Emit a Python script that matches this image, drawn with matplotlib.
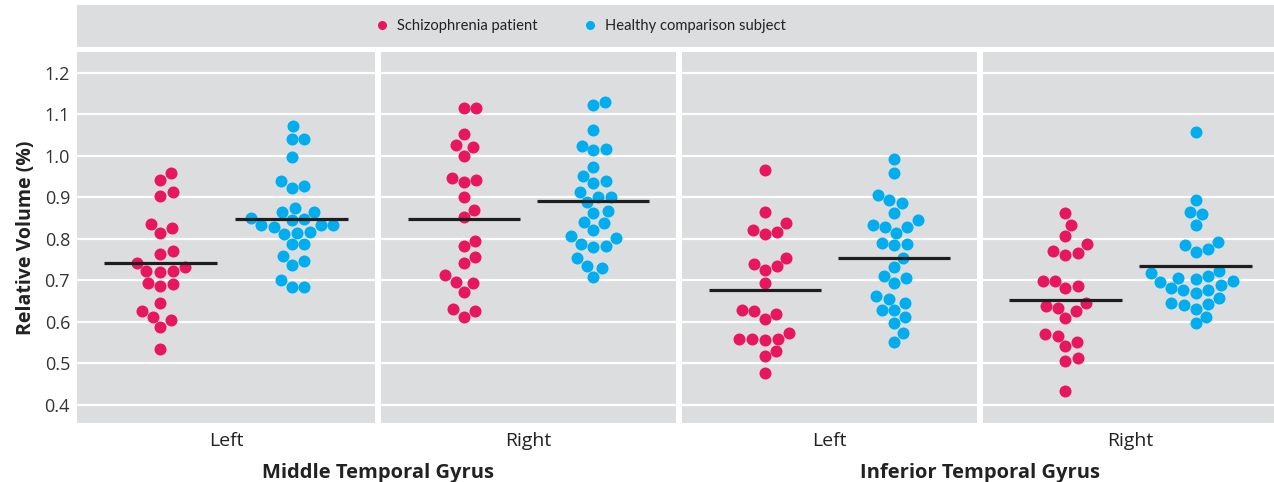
import matplotlib
matplotlib.use("Agg")
import matplotlib.pyplot as plt
import numpy as np
from matplotlib.lines import Line2D

# ---------------- data ----------------
groups = ["Schizophrenia patient", "Healthy comparison subject"]
side_labels = ["Left", "Right", "Left", "Right"]
region_labels = ["Middle Temporal Gyrus", "Inferior Temporal Gyrus"]
yticks = [0.4, 0.5, 0.6, 0.7, 0.8, 0.9, 1.0, 1.1, 1.2]

mtg_left_scz = [0.957, 0.941, 0.911, 0.903, 0.834, 0.825, 0.814, 0.771, 0.763, 0.742, 0.732,
                0.722, 0.722, 0.720, 0.692, 0.690, 0.686, 0.644, 0.625, 0.612, 0.603, 0.587, 0.535]
mtg_left_hc = [1.071, 1.041, 1.041, 0.997, 0.938, 0.927, 0.923, 0.874, 0.865, 0.864, 0.849, 0.846,
               0.845, 0.833, 0.832, 0.832, 0.828, 0.816, 0.813, 0.810, 0.787, 0.786, 0.758, 0.745,
               0.736, 0.700, 0.683, 0.683]
mtg_right_scz = [1.114, 1.114, 1.053, 1.025, 1.020, 1.000, 0.947, 0.942, 0.937, 0.900, 0.869, 0.853,
                 0.794, 0.783, 0.755, 0.741, 0.713, 0.696, 0.692, 0.672, 0.630, 0.625, 0.612]
mtg_right_hc = [1.130, 1.121, 1.062, 1.024, 1.015, 1.013, 0.973, 0.951, 0.939, 0.935, 0.912, 0.900,
                0.899, 0.887, 0.866, 0.861, 0.840, 0.837, 0.820, 0.805, 0.802, 0.786, 0.783, 0.779,
                0.753, 0.734, 0.730, 0.708]
itg_left_scz = [0.965, 0.863, 0.837, 0.820, 0.815, 0.811, 0.753, 0.739, 0.733, 0.724, 0.693, 0.628,
                0.625, 0.619, 0.607, 0.572, 0.559, 0.559, 0.558, 0.555, 0.529, 0.517, 0.475]
itg_left_hc = [0.992, 0.959, 0.906, 0.892, 0.886, 0.861, 0.844, 0.832, 0.828, 0.828, 0.814, 0.790,
               0.788, 0.784, 0.754, 0.731, 0.709, 0.706, 0.693, 0.662, 0.655, 0.645, 0.629, 0.628,
               0.612, 0.597, 0.573, 0.550]
itg_right_scz = [0.861, 0.833, 0.806, 0.787, 0.769, 0.766, 0.761, 0.698, 0.698, 0.686, 0.680, 0.644,
                 0.638, 0.633, 0.625, 0.608, 0.570, 0.565, 0.551, 0.541, 0.512, 0.506, 0.433]
itg_right_hc = [1.056, 0.894, 0.864, 0.859, 0.833, 0.791, 0.784, 0.774, 0.768, 0.722, 0.717, 0.709,
                0.705, 0.702, 0.698, 0.695, 0.688, 0.680, 0.677, 0.676, 0.670, 0.658, 0.644, 0.642,
                0.640, 0.630, 0.612, 0.596]

mean_scz = [0.742, 0.848, 0.677, 0.653]
mean_hc = [0.848, 0.890, 0.754, 0.733]

panel_data = [(mtg_left_scz, mtg_left_hc), (mtg_right_scz, mtg_right_hc),
              (itg_left_scz, itg_left_hc), (itg_right_scz, itg_right_hc)]

# ---------------- style ----------------
RED = "#E8175D"
BLUE = "#00AEEF"
BG = "#DCDDDF"
TXT = "#333333"
plt.rcParams["font.family"] = ["Open Sans", "DejaVu Sans"]

W, H = 1274, 482
fig = plt.figure(figsize=(W / 100, H / 100), dpi=100)
fig.patch.set_facecolor("white")

top_px, bot_px = 51.5, 423.3
panel_px = [(77, 375), (381, 676), (682, 977), (982.5, 1278.5)]
centers = [-0.22, 0.22]
DOT_D = 12.6  # px spacing between dot centres
DOT_S = (12.0 * 72 / 100) ** 2


def swarm_offsets(ax, center, vals, d):
    vals = np.asarray(vals, float)
    pts = ax.transData.transform(np.column_stack([np.full(len(vals), center), vals]))
    ys = pts[:, 1]
    ppu = ax.transData.transform((1, 0))[0] - ax.transData.transform((0, 0))[0]
    order = np.argsort(ys)
    placed = []
    offs = np.zeros(len(vals))
    for i in order:
        y = ys[i]
        neigh = [(px, py) for px, py in placed if abs(py - y) < d]
        cands = [0.0]
        for px, py in neigh:
            dx = np.sqrt(max(d * d - (py - y) ** 2, 0.0))
            cands += [px + dx, px - dx]
        cands.sort(key=abs)
        chosen = cands[-1]
        for c in cands:
            if all((c - px) ** 2 + (y - py) ** 2 >= d * d - 1e-6 for px, py in neigh):
                chosen = c
                break
        offs[i] = chosen
        placed.append((chosen, y))
    return offs / ppu


axes = []
for i, (l, r) in enumerate(panel_px):
    ax = fig.add_axes([l / W, 1 - bot_px / H, (r - l) / W, (bot_px - top_px) / H])
    axes.append(ax)
    ax.set_facecolor(BG)
    ax.set_xlim(-0.5, 0.5)
    ax.set_ylim(0.355, 1.2506)
    ax.set_yticks(yticks)
    ax.set_yticklabels([f"{t:.1f}" for t in yticks])
    ax.grid(axis="y", color="white", lw=1.6)
    ax.set_axisbelow(True)
    for s in ax.spines.values():
        s.set_visible(False)
    ax.tick_params(length=0, labelsize=13, colors=TXT, pad=5)
    ax.tick_params(axis="x", pad=6)
    ax.set_xticks([0])
    ax.set_xticklabels([side_labels[i]], fontsize=14, color="#222222")
    if i > 0:
        ax.tick_params(labelleft=False)
    for vals, col, cen, m in [(panel_data[i][0], RED, centers[0], mean_scz[i]),
                              (panel_data[i][1], BLUE, centers[1], mean_hc[i])]:
        offs = swarm_offsets(ax, cen, vals, DOT_D)
        ax.scatter(cen + offs, vals, s=DOT_S, color=col, linewidths=0, zorder=3)
        ax.plot([cen - 0.19, cen + 0.19], [m, m], color="#1e1e1e", lw=2.3,
                solid_capstyle="butt", zorder=4)

axes[0].set_ylabel("Relative Volume (%)", fontsize=14, fontweight="bold",
                   color="#222222", labelpad=6)

# region labels
fig.text(378 / W, 1 - 478.3 / H, region_labels[0], ha="center", va="baseline",
         fontsize=14.5, fontweight="bold", color="#222222")
fig.text(979.5 / W, 1 - 478.3 / H, region_labels[1], ha="center", va="baseline",
         fontsize=14.5, fontweight="bold", color="#222222")

# legend box
lax = fig.add_axes([77 / W, 1 - 46.7 / H, (1278.5 - 77) / W, (46.7 - 5) / H])
lax.set_facecolor(BG)
lax.set_xticks([])
lax.set_yticks([])
for s in lax.spines.values():
    s.set_visible(False)
handles = [Line2D([], [], marker="o", ls="", color=RED, markersize=6.5, markeredgewidth=0),
           Line2D([], [], marker="o", ls="", color=BLUE, markersize=6.5, markeredgewidth=0)]
leg = lax.legend(handles, groups, loc="center left", bbox_to_anchor=(0.250, 0.5), ncol=2,
                 frameon=False, prop={"family": ["Lato", "DejaVu Sans"], "size": 10.6},
                 handlelength=0.6, handletextpad=0.72, columnspacing=3.24,
                 borderpad=0, borderaxespad=0, labelcolor="#222222")

fig.savefig("out.png", dpi=100, facecolor="white")
